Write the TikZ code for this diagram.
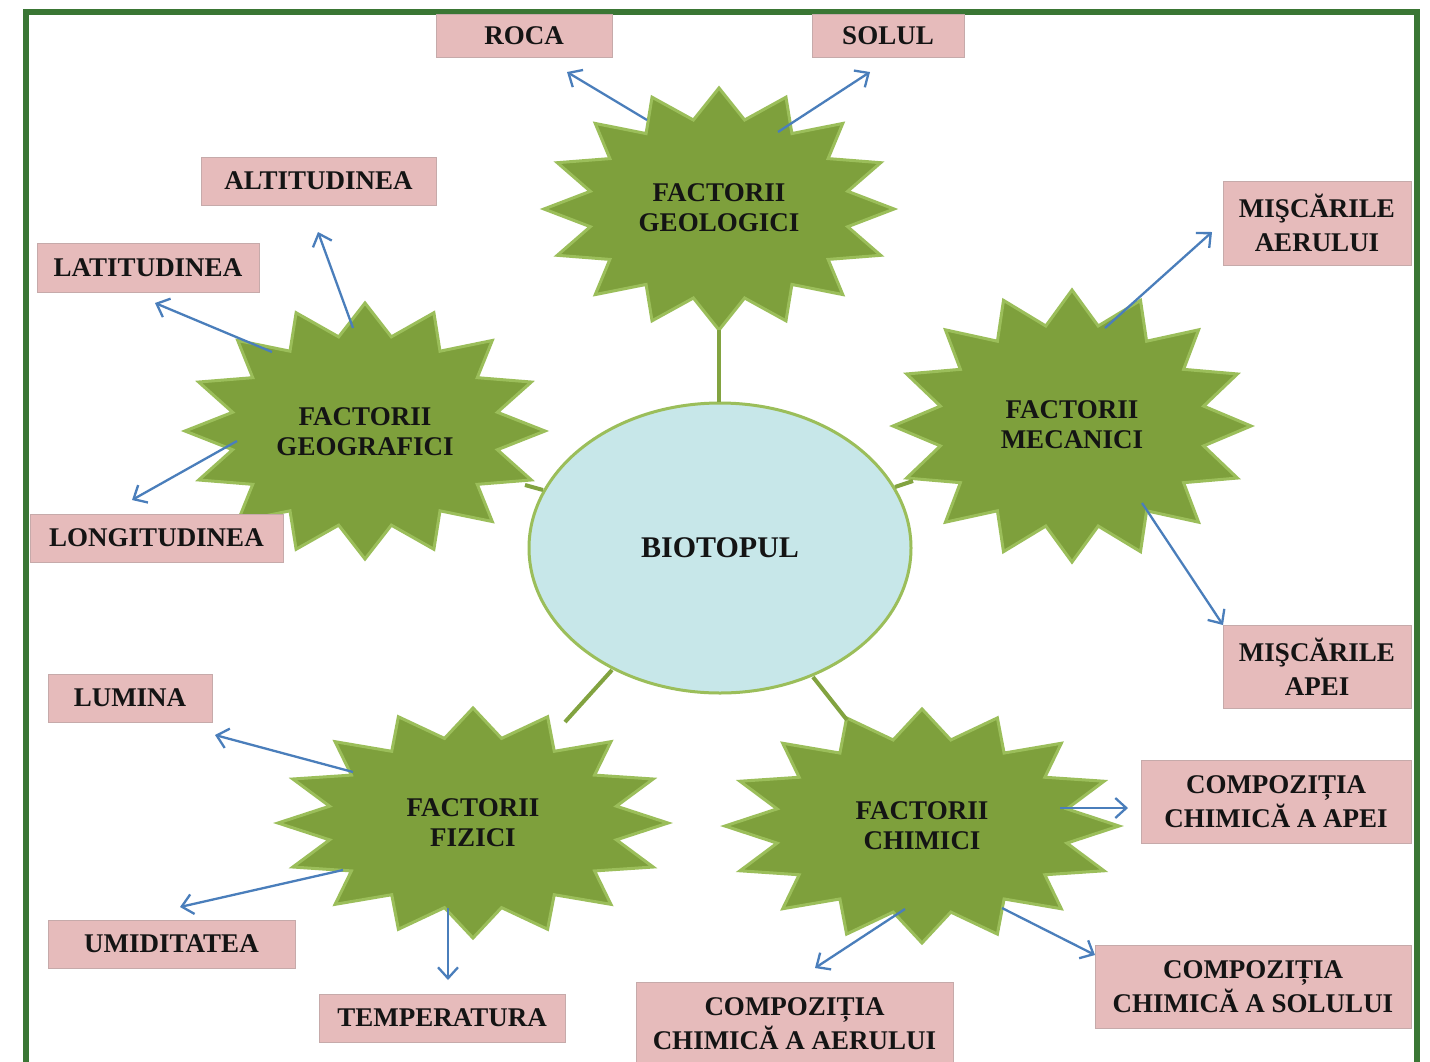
\documentclass[tikz,border=0pt]{standalone}
\usepackage{fontspec}
\setmainfont{Liberation Serif}
\usetikzlibrary{arrows.meta,shapes.geometric}
\definecolor{frameg}{RGB}{58,118,52}
\definecolor{starfill}{RGB}{126,160,60}
\definecolor{starline}{RGB}{155,190,90}
\definecolor{linkg}{RGB}{130,163,64}
\definecolor{ellfill}{RGB}{199,231,233}
\definecolor{boxfill}{RGB}{230,187,187}
\definecolor{boxline}{RGB}{198,170,170}
\definecolor{arrowblue}{RGB}{74,126,187}
\definecolor{txt}{RGB}{20,20,20}
\tikzset{
  starshape/.style={fill=starfill, draw=starline, line width=3pt, line join=miter},
  startext/.style={font=\bfseries\fontsize{27}{30}\selectfont, text=txt, align=center, inner sep=0pt},
  lbox/.style={rectangle, fill=boxfill, draw=boxline, line width=1pt, font=\bfseries\fontsize{27}{34}\selectfont, text=txt, align=center, inner sep=0pt},
  blink/.style={draw=arrowblue, line width=2.3pt, -{Straight Barb[length=11pt,width=20pt,line width=2.3pt]}},
  glink/.style={draw=linkg, line width=4pt},
}
\newcommand\drawStar[4]{%
  \path[starshape] ({#1},{#2+#4})
    \foreach \kk [evaluate=\kk as \rr using {1-0.25*mod(\kk,2)}] in {1,...,31}{
      -- ({#1+\rr*#3*cos(90+11.25*\kk)},{#2+\rr*#4*sin(90+11.25*\kk)})
    } -- cycle;
}
\begin{document}
\begin{tikzpicture}[x=1pt,y=-1pt]
\useasboundingbox (0,0) rectangle (1430,1061);
\clip (0,0) rectangle (1430,1061);
\fill[white] (0,0) rectangle (1430,1061);
% frame
\draw[frameg, line width=6pt] (26,1080) -- (26,12) -- (1417,12) -- (1417,1080);

% stars
\drawStar{719}{209}{175}{121}
\drawStar{365}{431}{180}{128}
\drawStar{1072}{426}{179}{136}
\drawStar{473}{823}{195}{115}
\drawStar{922}{826}{197}{117}

% central ellipse
\node[ellipse, fill=ellfill, draw=starline, line width=3pt, minimum width=382pt, minimum height=290pt, inner sep=0pt,
      font=\bfseries\fontsize{30}{34}\selectfont, text=txt] (bio) at (720,548) {BIOTOPUL};

% star texts
\node[startext] (geo)  at (719,208) {FACTORII\\GEOLOGICI};
\node[startext] (geog) at (365,432) {FACTORII\\GEOGRAFICI};
\node[startext] (mec)  at (1072,425) {FACTORII\\MECANICI};
\node[startext] (fiz)  at (473,823) {FACTORII\\FIZICI};
\node[startext] (chim) at (922,826) {FACTORII\\CHIMICI};

% green connector end points
\coordinate (gGeo)  at (719,330);
\coordinate (bGeo)  at (719,402);
\coordinate (gGeog) at (525,485);
\coordinate (bGeog) at (543,490);
\coordinate (gMec)  at (895,487);
\coordinate (bMec)  at (913,481);
\coordinate (gFiz)  at (565,722);
\coordinate (bFiz)  at (612,670);
\coordinate (gChim) at (847,720);
\coordinate (bChim) at (813,677);
\draw[glink] (bGeo) -- (gGeo);
\draw[glink] (bGeog) -- (gGeog);
\draw[glink] (bMec) -- (gMec);
\draw[glink] (bFiz) -- (gFiz);
\draw[glink] (bChim) -- (gChim);

% boxes
\node[lbox, minimum width=176pt, minimum height=43pt] (roca) at (524,35.5) {ROCA};
\node[lbox, minimum width=152pt, minimum height=43pt] (sol) at (888,35.5) {SOLUL};
\node[lbox, minimum width=235pt, minimum height=48pt] (alt) at (318.5,181) {ALTITUDINEA};
\node[lbox, minimum width=222pt, minimum height=49pt] (lat) at (148,267.5) {LATITUDINEA};
\node[lbox, minimum width=253pt, minimum height=48pt] (lon) at (156.5,538) {LONGITUDINEA};
\node[lbox, minimum width=188pt, minimum height=84pt] (aer) at (1317,223) {MIŞCĂRILE\\AERULUI};
\node[lbox, minimum width=188pt, minimum height=83pt] (apa) at (1317,666.5) {MIŞCĂRILE\\APEI};
\node[lbox, minimum width=164pt, minimum height=48pt] (lum) at (130,698) {LUMINA};
\node[lbox, minimum width=247pt, minimum height=48pt] (umi) at (171.5,944) {UMIDITATEA};
\node[lbox, minimum width=246pt, minimum height=48pt] (temp) at (442,1018) {TEMPERATURA};
\node[lbox, minimum width=270pt, minimum height=83pt] (capa) at (1276,801.5) {COMPOZIȚIA\\CHIMICĂ A APEI};
\node[lbox, minimum width=317pt, minimum height=83pt] (caer) at (794.5,1023.5) {COMPOZIȚIA\\CHIMICĂ A AERULUI};
\node[lbox, minimum width=316pt, minimum height=83pt] (csol) at (1253,986.5) {COMPOZIȚIA\\CHIMICĂ A SOLULUI};

% blue arrows
\coordinate (sRoca) at (647,120);  \coordinate (eRoca) at (567,72);
\coordinate (sSol)  at (778,132);  \coordinate (eSol)  at (870,72);
\coordinate (sAlt)  at (353,328);  \coordinate (eAlt)  at (318,232);
\coordinate (sLat)  at (272,352);  \coordinate (eLat)  at (155,303);
\coordinate (sLon)  at (237,441);  \coordinate (eLon)  at (132,500);
\coordinate (sAer)  at (1105,328); \coordinate (eAer)  at (1212,232);
\coordinate (sApa)  at (1142,503); \coordinate (eApa)  at (1223,625);
\coordinate (sLum)  at (353,772);  \coordinate (eLum)  at (215,735);
\coordinate (sUmi)  at (343,870);  \coordinate (eUmi)  at (180,907);
\coordinate (sTemp) at (448,908);  \coordinate (eTemp) at (448,980);
\coordinate (sCapa) at (1060,808); \coordinate (eCapa) at (1128,808);
\coordinate (sCaer) at (905,909);  \coordinate (eCaer) at (815,968);
\coordinate (sCsol) at (1002,908); \coordinate (eCsol) at (1095,955);
\foreach \nm in {Roca,Sol,Alt,Lat,Lon,Aer,Apa,Lum,Umi,Temp,Capa,Caer,Csol}
  \draw[blink] (s\nm) -- (e\nm);
\end{tikzpicture}
\end{document}
